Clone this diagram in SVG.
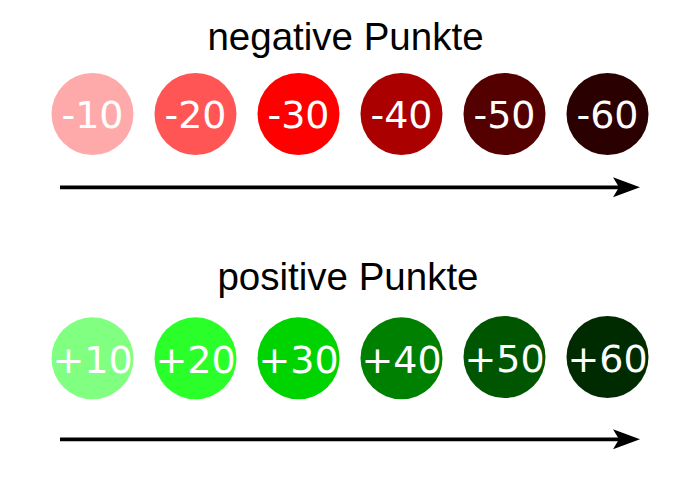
<svg xmlns="http://www.w3.org/2000/svg" width="700" height="500" viewBox="0 0 700 500">
<style>
.title{font-family:"Liberation Sans",Arial,sans-serif;font-size:38.5px;fill:#000;text-anchor:middle}
.lbl{font-family:"DejaVu Sans",sans-serif;font-size:38px;fill:#fff;text-anchor:middle}
.conn{stroke:#000;stroke-width:3.8;fill:none}
</style>
<defs>
<marker id="arr" markerUnits="userSpaceOnUse" markerWidth="30" markerHeight="24" refX="7" refY="10.5" orient="auto" viewBox="0 0 30 24">
<path d="M27 10.5 L0 0.5 L6 10.5 L0 20.5 Z" fill="#000"/>
</marker>
</defs>
<rect width="700" height="500" fill="#fff"/>
<g id="title-negative"><text class="title" x="345.5" y="50">negative Punkte</text></g>
<g id="title-positive"><text class="title" x="348" y="289.5">positive Punkte</text></g>
<g id="n10"><circle cx="92.5" cy="114" r="41" fill="#ffaaaa"/><text class="lbl" x="92.5" y="128">-10</text></g>
<g id="n20"><circle cx="195.5" cy="114" r="41" fill="#ff5555"/><text class="lbl" x="195.5" y="128">-20</text></g>
<g id="n30"><circle cx="298.5" cy="114" r="41" fill="#ff0000"/><text class="lbl" x="298.5" y="128">-30</text></g>
<g id="n40"><circle cx="401.5" cy="114" r="41" fill="#aa0000"/><text class="lbl" x="401.5" y="128">-40</text></g>
<g id="n50"><circle cx="504.5" cy="114" r="41" fill="#550000"/><text class="lbl" x="504.5" y="128">-50</text></g>
<g id="n60"><circle cx="607.5" cy="114" r="41" fill="#2b0000"/><text class="lbl" x="607.5" y="128">-60</text></g>
<g id="p10"><circle cx="92.5" cy="358.3" r="41" fill="#80ff80"/><text class="lbl" x="92.5" y="372.5">+10</text></g>
<g id="p20"><circle cx="195.5" cy="358.3" r="41" fill="#2aff2a"/><text class="lbl" x="195.5" y="372.5">+20</text></g>
<g id="p30"><circle cx="298.5" cy="358.3" r="41" fill="#00d400"/><text class="lbl" x="298.5" y="372.5">+30</text></g>
<g id="p40"><circle cx="401.5" cy="358.3" r="41" fill="#008000"/><text class="lbl" x="401.5" y="372.5">+40</text></g>
<g id="p50"><circle cx="504.5" cy="357" r="41" fill="#005500"/><text class="lbl" x="504.5" y="371.5">+50</text></g>
<g id="p60"><circle cx="607.5" cy="357" r="41" fill="#002b00"/><text class="lbl" x="607.5" y="371.5">+60</text></g>
<g id="connectors">
<line class="conn" x1="60" y1="187.3" x2="620" y2="187.3" marker-end="url(#arr)"/>
<line class="conn" x1="60" y1="439.3" x2="620" y2="439.3" marker-end="url(#arr)"/>
</g>
</svg>
